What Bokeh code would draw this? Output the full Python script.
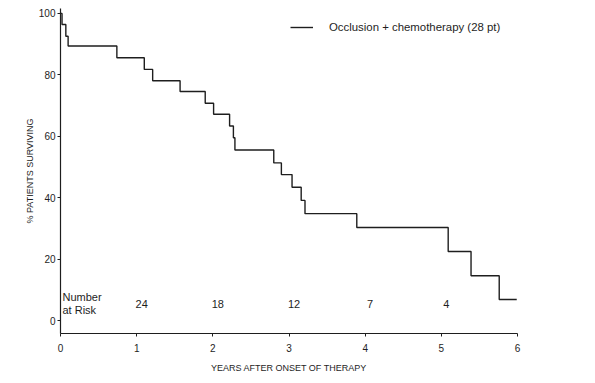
from bokeh.plotting import figure
from bokeh.models import Legend, LegendItem, FixedTicker, Range1d
from bokeh.core.properties import value
from bokeh.embed import file_html
from bokeh.resources import INLINE

# Kaplan-Meier survival curve (years, % surviving after each step)
years = [0, 0.02, 0.07, 0.10, 0.74, 1.10, 1.21, 1.57, 1.90, 2.01, 2.22, 2.27, 2.29,
         2.80, 2.90, 3.04, 3.16, 3.21, 3.89, 5.09, 5.39, 5.76, 5.99]
surv = [100, 96.4, 92.6, 89.4, 85.6, 81.8, 78.1, 74.6, 70.8, 67.2, 63.4, 59.6, 55.6,
        51.4, 47.6, 43.5, 39.2, 34.9, 30.4, 22.6, 14.7, 7.0, 7.0]

risk_years = [1, 2, 3, 4, 5]
risk_counts = ["24", "18", "12", "7", "4"]
risk_title = ["Number", "at Risk"]

x_ticks = [0, 1, 2, 3, 4, 5, 6]
y_ticks = [0, 20, 40, 60, 80, 100]
legend_label = "Occlusion + chemotherapy (28 pt)"

FONT = "Liberation Sans"
INK = "#1e1e1e"

p = figure(frame_width=457, frame_height=325,
           x_range=Range1d(0, 6), y_range=Range1d(-4.07, 101.6),
           output_backend="svg", toolbar_location=None,
           min_border_left=60, min_border_top=8, min_border_right=62, min_border_bottom=44)

p.grid.visible = False
p.outline_line_color = None
p.background_fill_color = "white"
p.border_fill_color = "white"

r = p.step(x=years, y=surv, mode="after", line_color=INK, line_width=1.4)

for ax in (p.xaxis[0], p.yaxis[0]):
    ax.axis_line_color = INK
    ax.axis_line_width = 1.2
    ax.major_tick_line_color = INK
    ax.minor_tick_line_color = None
    ax.major_tick_in = 0
    ax.major_tick_out = 3
    ax.major_label_text_font = FONT
    ax.major_label_text_font_size = "10px"
    ax.major_label_text_color = INK
    ax.axis_label_text_font = FONT
    ax.axis_label_text_font_size = "9px"
    ax.axis_label_text_font_style = "normal"
    ax.axis_label_text_color = INK

p.xaxis.ticker = FixedTicker(ticks=x_ticks)
p.yaxis.ticker = FixedTicker(ticks=y_ticks)
p.xaxis.axis_label = "YEARS AFTER ONSET OF THERAPY"
p.yaxis.axis_label = "% PATIENTS SURVIVING"
p.xaxis.major_label_standoff = 7
p.xaxis.axis_label_standoff = 8
p.yaxis.major_label_standoff = 2
p.yaxis.axis_label_standoff = 1

# Number at risk
p.text(x=risk_years, y=[5.4] * len(risk_years), text=risk_counts, x_offset=5,
       text_align="center", text_baseline="middle", text_font=value(FONT),
       text_font_size="11px", text_color=INK)
p.text(x=[0, 0], y=[7.7, 3.6], text=risk_title, x_offset=2,
       text_align="left", text_baseline="middle", text_font=value(FONT),
       text_font_size="11px", text_color=INK)

legend = Legend(items=[LegendItem(label=legend_label, renderers=[r])],
                location=(230, 296), padding=0, margin=0, spacing=0,
                glyph_width=23, glyph_height=20, label_height=20, label_standoff=16,
                label_text_font=FONT, label_text_font_size="11.4px", label_text_color=INK,
                border_line_alpha=0, background_fill_alpha=0)
p.add_layout(legend)

open("out.html", "w").write(file_html(p, INLINE))
